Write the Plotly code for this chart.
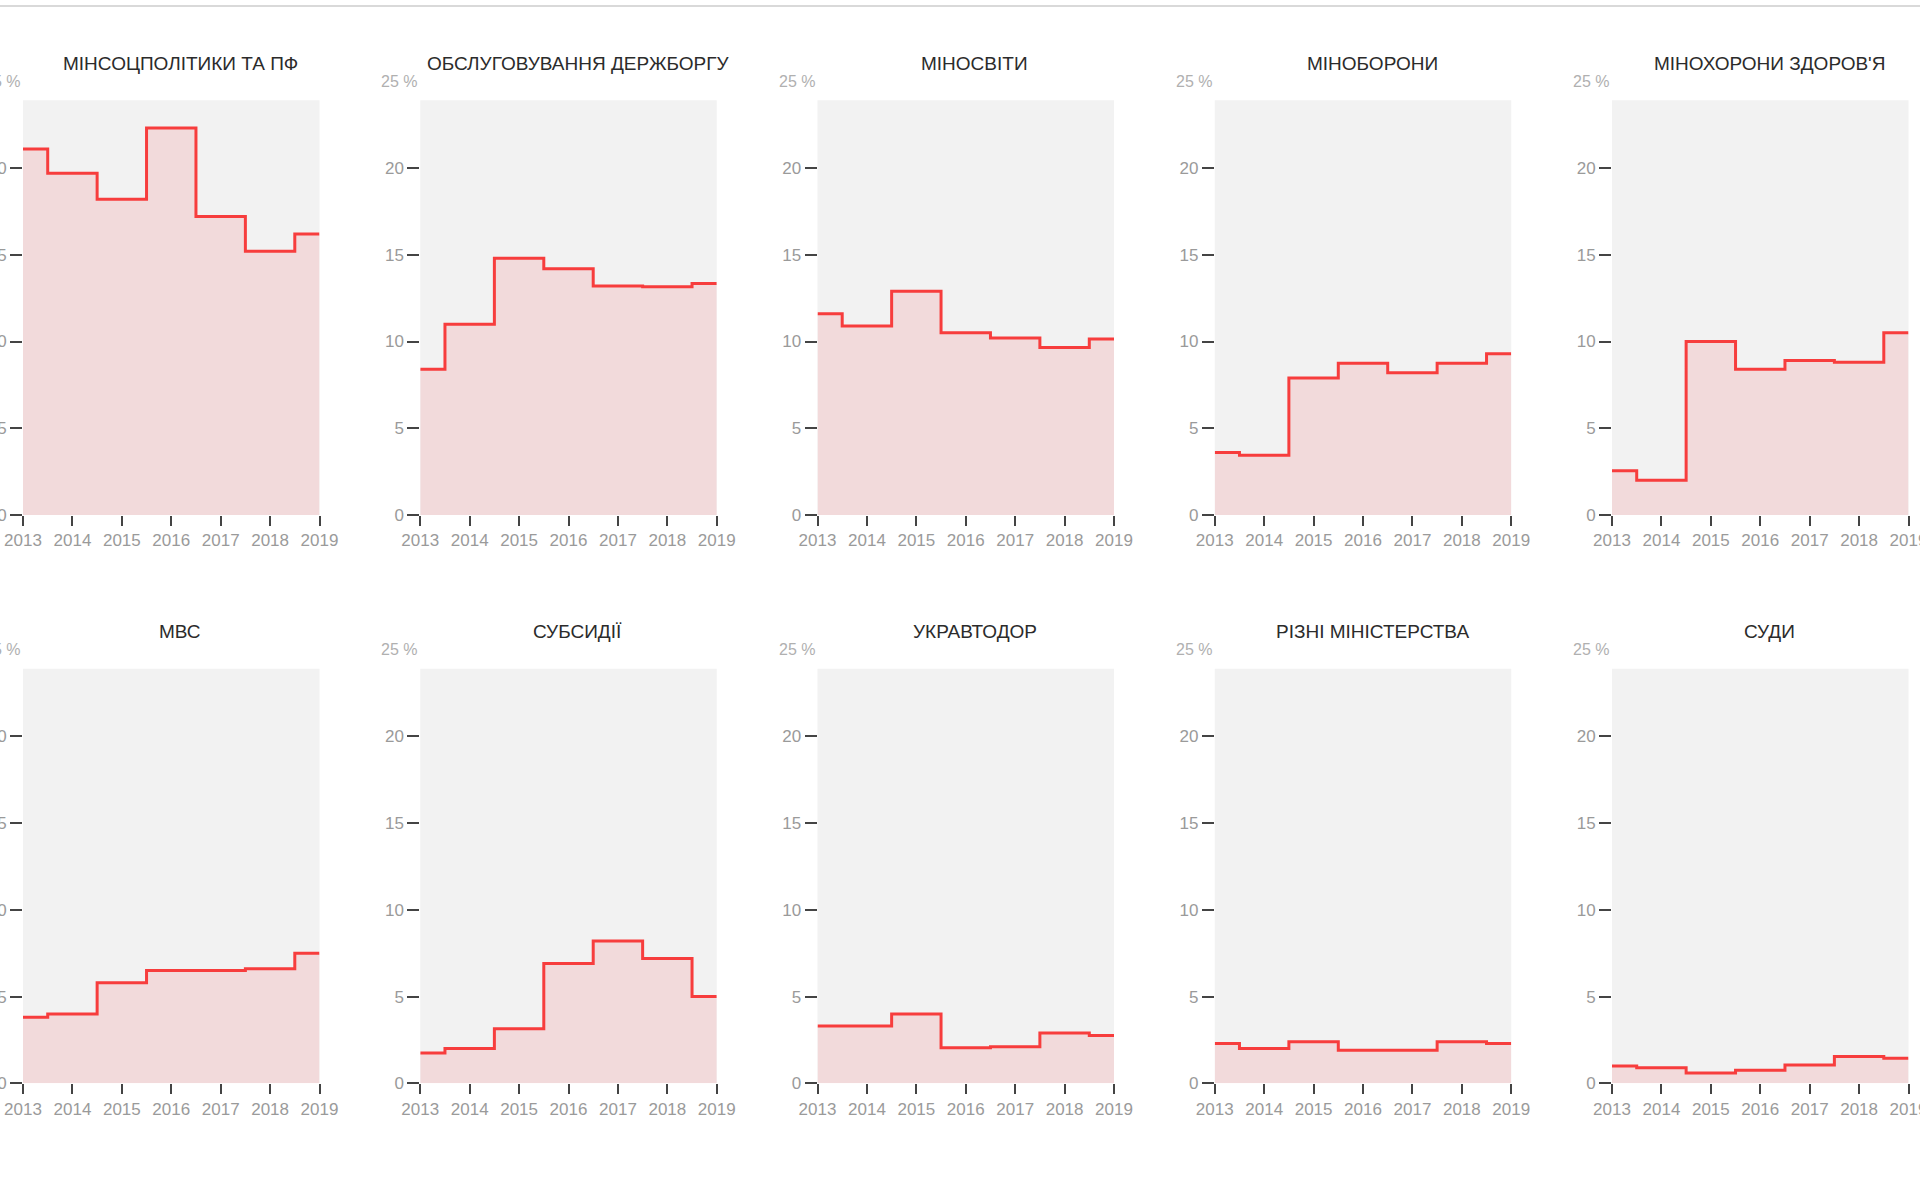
"""
Частка видатків держбюджету за напрямами, 2013-2019 (%).
Десять маленьких ступінчастих графіків у сітці 2 x 5.
"""
import plotly.graph_objects as go

YEARS = [2013, 2014, 2015, 2016, 2017, 2018, 2019]

TITLES = [
    "МІНСОЦПОЛІТИКИ ТА ПФ",
    "ОБСЛУГОВУВАННЯ ДЕРЖБОРГУ",
    "МІНОСВІТИ",
    "МІНОБОРОНИ",
    "МІНОХОРОНИ ЗДОРОВ'Я",
    "МВС",
    "СУБСИДІЇ",
    "УКРАВТОДОР",
    "РІЗНІ МІНІСТЕРСТВА",
    "СУДИ",
]

minsoc = [21.1, 19.7, 18.2, 22.3, 17.2, 15.2, 16.2]
debt = [8.4, 11.0, 14.8, 14.2, 13.2, 13.15, 13.35]
minosvity = [11.6, 10.9, 12.9, 10.5, 10.2, 9.65, 10.15]
minoborony = [3.6, 3.45, 7.9, 8.75, 8.2, 8.75, 9.3]
minzdrav = [2.55, 2.0, 10.0, 8.4, 8.9, 8.8, 10.5]
mvs = [3.8, 4.0, 5.8, 6.5, 6.5, 6.6, 7.5]
subsidies = [1.75, 2.0, 3.15, 6.9, 8.2, 7.2, 5.0]
ukravtodor = [3.3, 3.3, 4.0, 2.05, 2.1, 2.9, 2.75]
rizni = [2.3, 2.0, 2.4, 1.9, 1.9, 2.4, 2.3]
sudy = [1.0, 0.9, 0.6, 0.75, 1.05, 1.55, 1.45]

SERIES = [minsoc, debt, minosvity, minoborony, minzdrav,
          mvs, subsidies, ukravtodor, rizni, sudy]

Y_TICKS = [0, 5, 10, 15, 20]
Y_MAX = 25
BG_TOP = 23.9  # сірий фон закінчується трохи нижче 25 %

W, H = 1920, 1185
LINE = "#f73d3d"
FILL = "#f2dadb"
BG = "#f2f2f2"

# геометрія сітки в пікселях
COL_LEFT, COL_STEP, COL_W = 23, 397.25, 296.5
ROW_ZERO = [515, 1083.3]
PX_PER_UNIT = 17.35

fig = go.Figure()
layout = {}
shapes = []
annotations = []

for i, (title, vals) in enumerate(zip(TITLES, SERIES)):
    n = i + 1
    row, col = divmod(i, 5)
    xs = "" if n == 1 else str(n)

    left = COL_LEFT + COL_STEP * col
    right = left + COL_W
    zero = ROW_ZERO[row]
    top = zero - Y_MAX * PX_PER_UNIT

    fig.add_trace(go.Scatter(
        x=YEARS, y=vals,
        mode="lines",
        line=dict(shape="hvh", color=LINE, width=3),
        fill="tozeroy",
        fillcolor=FILL,
        xaxis="x" + xs, yaxis="y" + xs,
        hoverinfo="x+y",
        showlegend=False,
    ))

    layout["xaxis" + xs] = dict(
        domain=[left / W, right / W],
        anchor="y" + xs,
        range=[YEARS[0], YEARS[-1]],
        tickvals=YEARS,
        ticks="outside", ticklen=10, tickwidth=2, tickcolor="#444",
        tickfont=dict(size=17, color="#9a9a9a"),
        showgrid=False, zeroline=False, showline=False,
        automargin=False, ticklabeloverflow="allow", fixedrange=True,
    )
    layout["yaxis" + xs] = dict(
        domain=[1 - zero / H, 1 - top / H],
        anchor="x" + xs,
        range=[0, Y_MAX],
        tickvals=Y_TICKS,
        ticks="outside", ticklen=12, tickwidth=2, tickcolor="#444",
        tickfont=dict(size=17, color="#9a9a9a"),
        showgrid=False, zeroline=False, showline=False,
        automargin=False, ticklabeloverflow="allow", fixedrange=True,
    )

    # сірий фон панелі
    shapes.append(dict(
        type="rect", layer="below",
        xref="x" + xs + " domain", yref="y" + xs,
        x0=0, x1=1, y0=0, y1=BG_TOP,
        fillcolor=BG, line=dict(width=0),
    ))

    annotations.append(dict(
        text="25 %", showarrow=False,
        xref="x" + xs + " domain", yref="y" + xs,
        x=0, y=Y_MAX, xanchor="right", yanchor="middle", xshift=-1,
        font=dict(size=16, color="#b0b0b0"),
    ))
    annotations.append(dict(
        text=title, showarrow=False,
        xref="x" + xs + " domain", yref="y" + xs + " domain",
        x=0.5, y=1, xanchor="center", yanchor="middle",
        xshift=9, yshift=18,
        font=dict(size=19, color="#2b2b2b"),
    ))

# тонка сіра лінія вгорі сторінки
shapes.append(dict(
    type="line", xref="paper", yref="paper",
    x0=0, x1=1, y0=1 - 6 / H, y1=1 - 6 / H,
    line=dict(color="#d9d9d9", width=2),
))

fig.update_layout(
    **layout,
    shapes=shapes,
    annotations=annotations,
    width=W, height=H,
    margin=dict(l=0, r=0, t=0, b=0, autoexpand=False),
    paper_bgcolor="white",
    plot_bgcolor="rgba(0,0,0,0)",
    font=dict(family="Liberation Sans, Arial, sans-serif"),
    showlegend=False,
)

fig.write_html("out.html", config={"displayModeBar": False},
               post_script="document.body.style.margin='0';")
